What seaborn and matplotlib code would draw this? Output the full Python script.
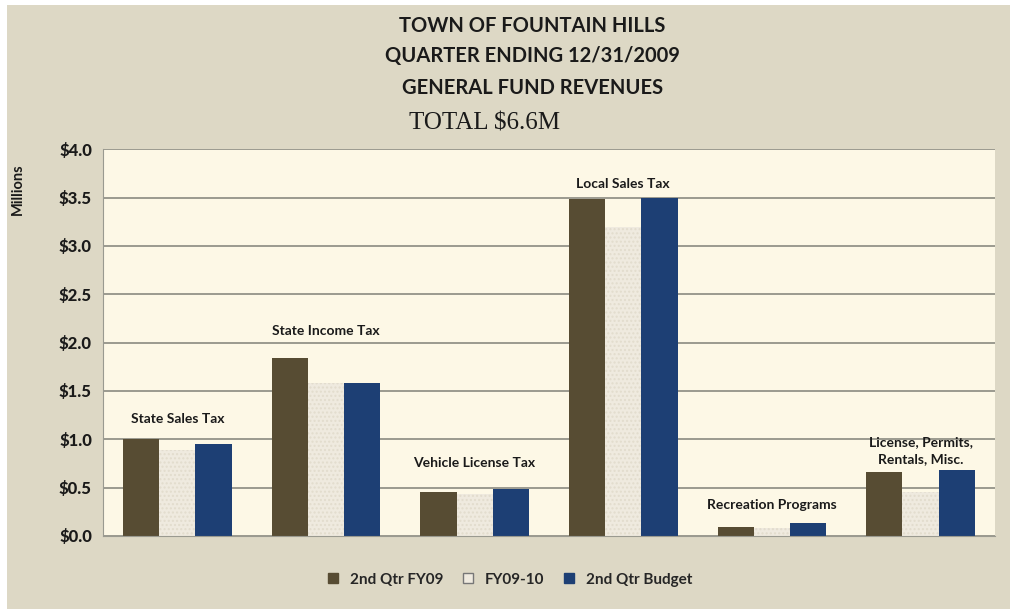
import matplotlib
matplotlib.use("Agg")
import matplotlib.pyplot as plt
import seaborn as sns
import pandas as pd
from matplotlib.lines import Line2D
from matplotlib.patches import Rectangle

categories = ["State Sales Tax", "State Income Tax", "Vehicle License Tax",
              "Local Sales Tax", "Recreation Programs", "License, Permits,\nRentals, Misc."]
series = ["2nd Qtr FY09", "FY09-10", "2nd Qtr Budget"]
qtr_fy09 = [1.00, 1.84, 0.455, 3.48, 0.09, 0.66]
fy09_10 = [0.89, 1.58, 0.43, 3.20, 0.08, 0.45]
budget = [0.95, 1.58, 0.485, 3.50, 0.13, 0.68]
label_heights = [1.15, 2.06, 0.69, 3.58, 0.26, 0.73]
yticks = [0.0, 0.5, 1.0, 1.5, 2.0, 2.5, 3.0, 3.5, 4.0]
title_lines = ["TOWN OF FOUNTAIN HILLS", "QUARTER ENDING 12/31/2009", "GENERAL FUND REVENUES"]
total_text = "TOTAL $6.6M"

colors = ["#574c33", "#efeadf", "#1d3f74"]
outer_bg = "#ddd8c5"
plot_bg = "#fdf8e6"
text_col = "#1a1a1a"

rows = []
for s, vals in zip(series, [qtr_fy09, fy09_10, budget]):
    for c, v in zip(categories, vals):
        rows.append({"category": c, "series": s, "value": v})
df = pd.DataFrame(rows)

sns.set_style("white")
plt.rcParams["font.family"] = ["Lato", "DejaVu Sans"]

fig = plt.figure(figsize=(10.1, 6.09), dpi=100, facecolor="white")
fig.patches.append(Rectangle((0.007, -0.05), 1.05, 1.041, transform=fig.transFigure,
                             facecolor=outer_bg, edgecolor="none", zorder=-10))
ax = fig.add_axes([0.102, 0.12, 0.883, 0.635])
ax.set_facecolor(plot_bg)

sns.barplot(data=df, x="category", y="value", hue="series", palette=colors,
            width=0.73, ax=ax, legend=False, saturation=1, edgecolor="none")

n = len(categories)
for i, p in enumerate(ax.patches):
    if n <= i < 2 * n:
        p.set_hatch("....")
        p.set_edgecolor("#e2dccd")
        p.set_linewidth(0)

ax.set_ylim(0, 4.0)
ax.set_yticks(yticks)
ax.set_yticklabels([f"${t:.1f}" for t in yticks], fontsize=12, fontweight="black", color=text_col)
ax.set_xticks([])
ax.set_xlabel("")
ax.set_ylabel("")
ax.grid(axis="y", color="#8a8a80", linewidth=1.2)
ax.set_axisbelow(True)
for sp in ["top", "right"]:
    ax.spines[sp].set_visible(False)
ax.spines["left"].set_color("#9a9a90")
ax.spines["bottom"].set_color("#9a9a90")
ax.tick_params(axis="y", length=0, pad=8)

for i, (c, h) in enumerate(zip(categories, label_heights)):
    ax.text(i, h, c, ha="center", va="bottom", fontsize=10, fontweight="bold",
            color=text_col, linespacing=1.5)

fig.text(0.0175, 0.69, "Millions", rotation=90, ha="center", va="center",
         fontsize=10.5, fontweight="bold", color=text_col)

title_y = [0.958, 0.908, 0.856]
for t, y in zip(title_lines, title_y):
    fig.text(0.527, y, t, ha="center", va="center", fontsize=14.5, fontweight="bold",
             color=text_col, fontstretch="condensed")
fig.text(0.48, 0.798, total_text, ha="center", va="center", fontsize=18,
         family=["Liberation Serif"], color=text_col)

handles = [Line2D([0], [0], marker="s", linestyle="none", markersize=7,
                  markerfacecolor=col, markeredgecolor="#777777" if k == 1 else col)
           for k, col in enumerate(colors)]
fig.legend(handles, series, loc="center", bbox_to_anchor=(0.5, 0.048), ncol=3,
           frameon=False, handletextpad=0.1, columnspacing=0.6,
           prop={"weight": "bold", "size": 11})

fig.savefig("out.png", dpi=100, facecolor="white")
